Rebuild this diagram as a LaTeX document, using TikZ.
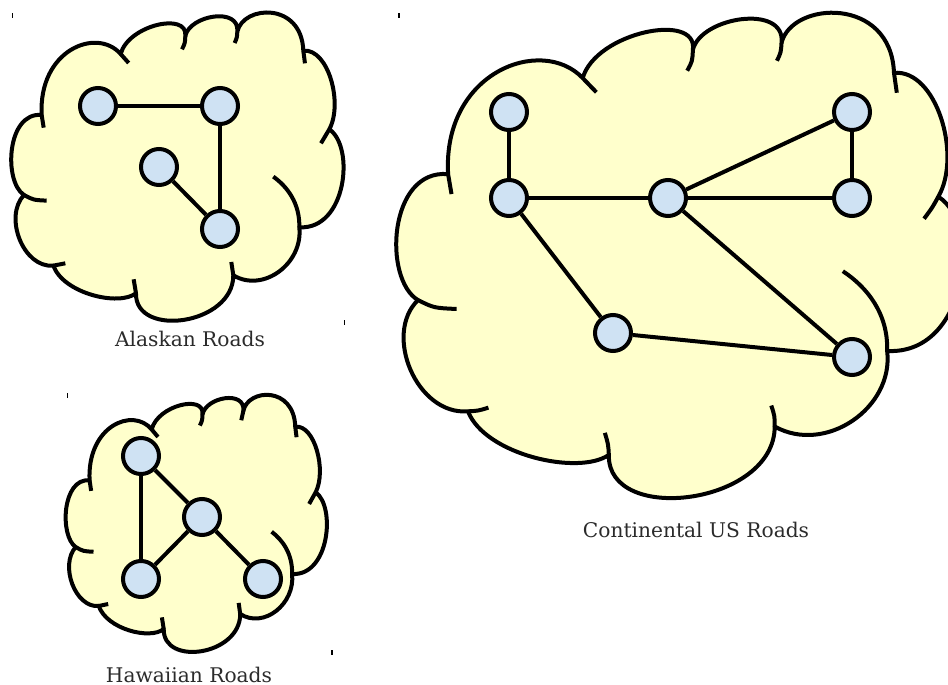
\documentclass[tikz,border=0pt]{standalone}
\usepackage{fontspec}
\setmainfont{DejaVu Serif}
\usepackage{xcolor}
\usepackage{tikz}
\usetikzlibrary{positioning}

\definecolor{cloudfill}{HTML}{FFFFCC}
\definecolor{townfill}{HTML}{CFE2F3}
\definecolor{labelgray}{HTML}{2B2B2B}

\begin{document}
\begin{tikzpicture}[
    x=0.5pt, y=-0.5pt,
    cloudline/.style={draw=black, line width=2pt, line join=round},
    town/.style={circle, draw, line width=2pt, fill=townfill, minimum size=18pt, inner sep=0pt},
    road/.style={line width=2pt},
    caption/.style={font=\fontsize{10.1}{12}\selectfont, text=labelgray, anchor=base},
    corner/.style={line width=0.8pt},
    roadcloud/.pic={
      \filldraw[cloudline, fill=cloudfill] (125,345)
        .. controls (115,150) and (290,80) .. (362,162)
        .. controls (385,75) and (565,35) .. (556,108)
        .. controls (570,45) and (720,20) .. (712,95)
        .. controls (730,15) and (905,5) .. (910,152)
        .. controls (985,145) and (1030,310) .. (988,388)
        .. controls (1065,440) and (1040,690) .. (898,682)
        .. controls (910,790) and (790,880) .. (700,826)
        .. controls (700,975) and (405,1015) .. (408,880)
        .. controls (355,920) and (190,880) .. (160,797)
        .. controls (70,805) and (10,650) .. (72,585)
        .. controls (10,545) and (20,335) .. cycle;
      % inner ends of the bumps
      \draw[cloudline] (125,345) .. controls (127,365) .. (131,383);
      \draw[cloudline] (362,162) .. controls (375,176) .. (386,189);
      \draw[cloudline] (556,108) .. controls (555,130) .. (546,148);
      \draw[cloudline] (712,95) .. controls (711,113) .. (704,129);
      \draw[cloudline] (910,152) .. controls (913,170) .. (915,190);
      \draw[cloudline] (988,388) .. controls (978,408) .. (963,430);
      \draw[cloudline] (898,682) .. controls (900,610) and (862,560) .. (820,530);
      \draw[cloudline] (700,826) .. controls (700,806) .. (694,786);
      \draw[cloudline] (408,880) .. controls (407,860) .. (401,838);
      \draw[cloudline] (160,797) .. controls (178,796) .. (196,790);
      \draw[cloudline] (72,585) .. controls (100,600) .. (140,602);
    }
]
\clip (0,0) rectangle (948,685);

% clouds
\begin{scope}[xscale=0.3333, yscale=0.3333]
  \pic[transform shape] {roadcloud};
\end{scope}
\begin{scope}[shift={(56.83,384.4)}, xscale=0.262, yscale=0.278]
  \pic[transform shape] {roadcloud};
\end{scope}
\begin{scope}[shift={(377.1,-6.94)}, xscale=0.568, yscale=0.5248]
  \pic[transform shape] {roadcloud};
\end{scope}

% Alaska
\node[town] (ak1) at (98,106) {};
\node[town] (ak2) at (220,106) {};
\node[town] (ak3) at (159,167) {};
\node[town] (ak4) at (220,229) {};
\draw[road] (ak1) -- (ak2);
\draw[road] (ak2) -- (ak4);
\draw[road] (ak3) -- (ak4);

% Hawaii
\node[town] (hi1) at (141,456) {};
\node[town] (hi2) at (202,517) {};
\node[town] (hi3) at (141,579) {};
\node[town] (hi4) at (263,579) {};
\draw[road] (hi1) -- (hi3);
\draw[road] (hi1) -- (hi2);
\draw[road] (hi2) -- (hi3);
\draw[road] (hi2) -- (hi4);

% continental US
\node[town] (us1) at (509,112) {};
\node[town] (us2) at (509,198) {};
\node[town] (us3) at (668,198) {};
\node[town] (us4) at (852,112) {};
\node[town] (us5) at (852,198) {};
\node[town] (us6) at (613,333) {};
\node[town] (us7) at (852,357) {};
\draw[road] (us1) -- (us2);
\draw[road] (us2) -- (us3);
\draw[road] (us3) -- (us5);
\draw[road] (us3) -- (us4);
\draw[road] (us4) -- (us5);
\draw[road] (us2) -- (us6);
\draw[road] (us6) -- (us7);
\draw[road] (us3) -- (us7);

\node[caption] (aklabel) at (190,346.5) {Alaskan Roads};
\node[caption] (hilabel) at (189,682.5) {Hawaiian Roads};
\node[caption] (uslabel) at (696,537) {Continental US Roads};

% corner marks
\draw[corner] (12.5,13) -- (12.5,18);
\draw[corner] (399,13) -- (399,18);
\draw[corner] (344.5,320) -- (344.5,325);
\draw[corner] (67.5,393) -- (67.5,398);
\draw[corner] (332,650) -- (332,655);
\end{tikzpicture}
\end{document}
